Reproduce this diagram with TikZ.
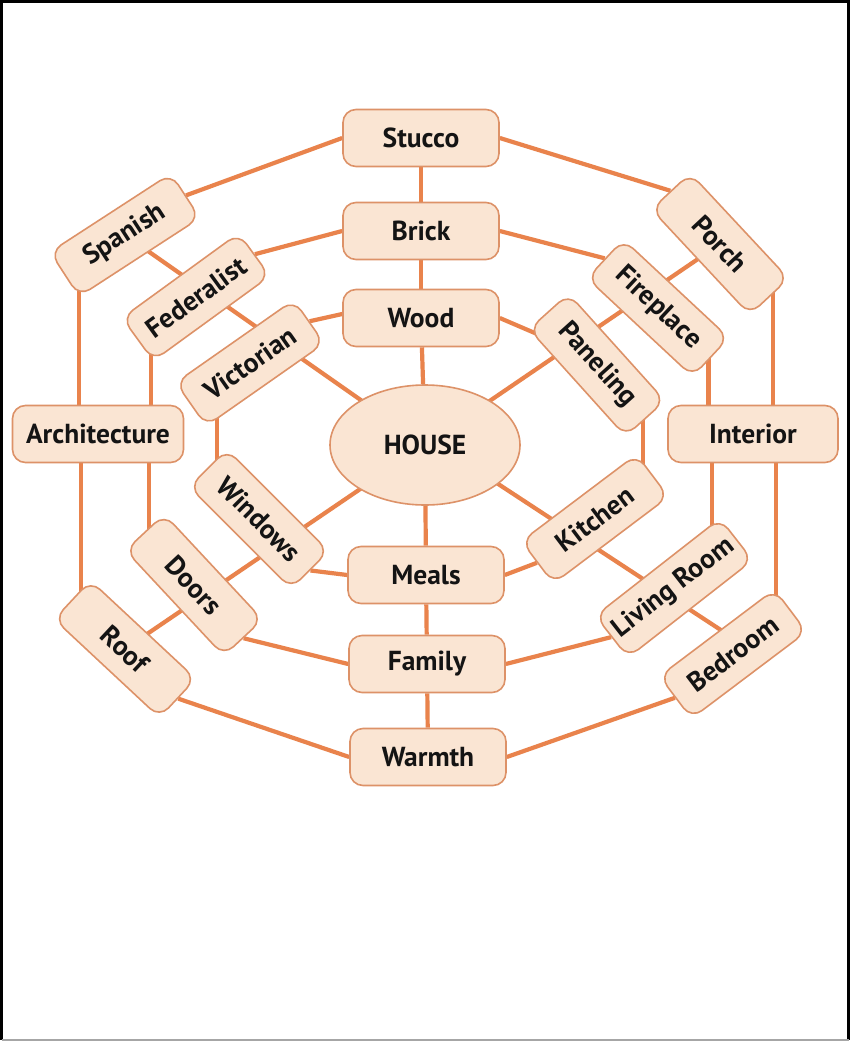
\documentclass[tikz,border=0pt]{standalone}
\usepackage{fontspec}
\setmainfont{PT Sans}
\usetikzlibrary{calc,backgrounds,shapes.geometric}
\definecolor{linecol}{RGB}{233,131,76}
\definecolor{boxfill}{RGB}{250,229,211}
\definecolor{boxline}{RGB}{221,146,104}
\definecolor{txt}{RGB}{20,20,20}
\begin{document}
\begin{tikzpicture}[x=1pt,y=-1pt,
  conn/.style={draw=linecol,line width=4.2pt},
  hbox/.style={draw=boxline,fill=boxfill,line width=1.6pt,rounded corners=13pt,minimum width=156pt,minimum height=57pt,inner sep=0pt,text=txt,font=\fontsize{27.5}{31}\selectfont\bfseries},
  rbox/.style={hbox,minimum width=144pt,minimum height=53pt},
  hub/.style={ellipse,draw=boxline,fill=boxfill,line width=1.6pt,minimum width=190pt,minimum height=120pt,inner sep=0pt,text=txt,font=\fontsize{27.5}{31}\selectfont\bfseries}
]
\useasboundingbox (0,0) rectangle (850,1041);
% vertical column
\node[hbox] (Stucco) at (421,138) {Stucco};
\node[hbox] (Brick) at (421,231) {Brick};
\node[hbox] (Wood) at (421,318) {Wood};
\node[hub] (HOUSE) at (425,445) {HOUSE};
\node[hbox] (Meals) at (426,575) {Meals};
\node[hbox] (Family) at (427,664) {Family};
\node[hbox] (Warmth) at (428,757) {Warmth};
\node[hbox,minimum width=171pt] (Architecture) at (98,434) {Architecture};
\node[hbox,minimum width=170pt] (Interior) at (753,434) {Interior};
% rotated boxes
\node[rbox,rotate=33] (Spanish) at (125,235) {Spanish};
\node[rbox,rotate=36] (Federalist) at (196,297) {Federalist};
\node[rbox,rotate=35] (Victorian) at (250,363) {Victorian};
\node[rbox,rotate=-45] (Windows) at (259,519) {Windows};
\node[rbox,rotate=-47] (Doors) at (194,585) {Doors};
\node[rbox,rotate=-43] (Roof) at (125,649) {Roof};
\node[rbox,rotate=-47] (Porch) at (720,244) {Porch};
\node[rbox,rotate=-43] (Fireplace) at (658,308) {Fireplace};
\node[rbox,rotate=-48] (Paneling) at (597,365) {Paneling};
\node[rbox,rotate=37] (Kitchen) at (595,519) {Kitchen};
\node[rbox,rotate=38,minimum width=158pt] (LivingRoom) at (674,588) {Living Room};
\node[rbox,rotate=37] (Bedroom) at (733,654) {Bedroom};

\begin{pgfonlayer}{background}
\fill[white] (0,0) rectangle (850,1041);
% helper points inside nodes
\coordinate (pk) at ($(Paneling.center)!0.95!(Paneling.east)$);
\coordinate (kp) at ($(Kitchen.center)!0.83!(Kitchen.east)$);
\coordinate (vw) at ($(Victorian.center)!0.55!(Victorian.west)$);
\coordinate (wv) at ($(Windows.center)!0.82!(Windows.west)$);
\coordinate (fi) at ($(Fireplace.center)!0.95!(Fireplace.east)$);
\coordinate (li) at ($(LivingRoom.center)!0.6!(LivingRoom.east)$);
\coordinate (da) at ($(Doors.center)!0.9!(Doors.west)$);
\coordinate (fa) at ($(Federalist.center)!0.77!(Federalist.west)$);
\coordinate (pi) at ($(Porch.center)!0.9!(Porch.10)$);
\coordinate (bi) at ($(Bedroom.center)!0.74!(Bedroom.east)$);
\coordinate (ra) at ($(Roof.center)!0.83!(Roof.west)$);
\coordinate (sa) at ($(Spanish.center)!0.75!(Spanish.west)$);
% spokes
\draw[conn] (Stucco) -- (Brick);
\draw[conn] (Brick) -- (Wood);
\draw[conn] (Wood) -- (HOUSE);
\draw[conn] (HOUSE) -- (Meals);
\draw[conn] (Meals) -- (Family);
\draw[conn] (Family) -- (Warmth);
\draw[conn] (HOUSE.center) -- (Spanish.center);
\draw[conn] (HOUSE.center) -- (Porch.center);
\draw[conn] (HOUSE.center) -- (Roof.center);
\draw[conn] ([yshift=9pt]HOUSE.center) -- ([yshift=16pt]Bedroom.center);
% inner ring
\draw[conn] ([yshift=4pt]Wood.west) -- (Victorian.east);
\draw[conn] (Wood.east) -- ($(Paneling.center)!0.85!(Paneling.south west)$);
\draw[conn] (pk) -- (pk |- kp);
\draw[conn] (Meals.east) -- (Kitchen.west);
\draw[conn] (Windows.east) -- (Meals.west);
\draw[conn] (vw) -- (vw |- wv);
% middle ring
\draw[conn] (Brick.west) -- (Federalist.east);
\draw[conn] (Brick.east) -- (Fireplace.west);
\draw[conn] (fi) -- (fi |- Interior.center);
\draw[conn] (li) -- (li |- Interior.center);
\draw[conn] (LivingRoom.west) -- (Family.east);
\draw[conn] (Doors.east) -- (Family.west);
\draw[conn] (da) -- (da |- Architecture.center);
\draw[conn] (fa) -- (fa |- Architecture.center);
% outer ring
\draw[conn] (Stucco.west) -- (Spanish.east);
\draw[conn] (Stucco.east) -- (Porch.west);
\draw[conn] (pi) -- (pi |- Interior.center);
\draw[conn] (bi) -- (bi |- Interior.center);
\draw[conn] (Bedroom.west) -- (Warmth.east);
\draw[conn] (Roof.east) -- (Warmth.west);
\draw[conn] (ra) -- (ra |- Architecture.center);
\draw[conn] (sa) -- (sa |- Architecture.center);
\end{pgfonlayer}
% frame
\draw[black,line width=3pt] (1.5,1039.5) -- (1.5,1.5) -- (848.5,1.5) -- (848.5,1039.5);
\draw[gray!70,line width=2pt] (1.5,1040) -- (848.5,1040);
\end{tikzpicture}
\end{document}
